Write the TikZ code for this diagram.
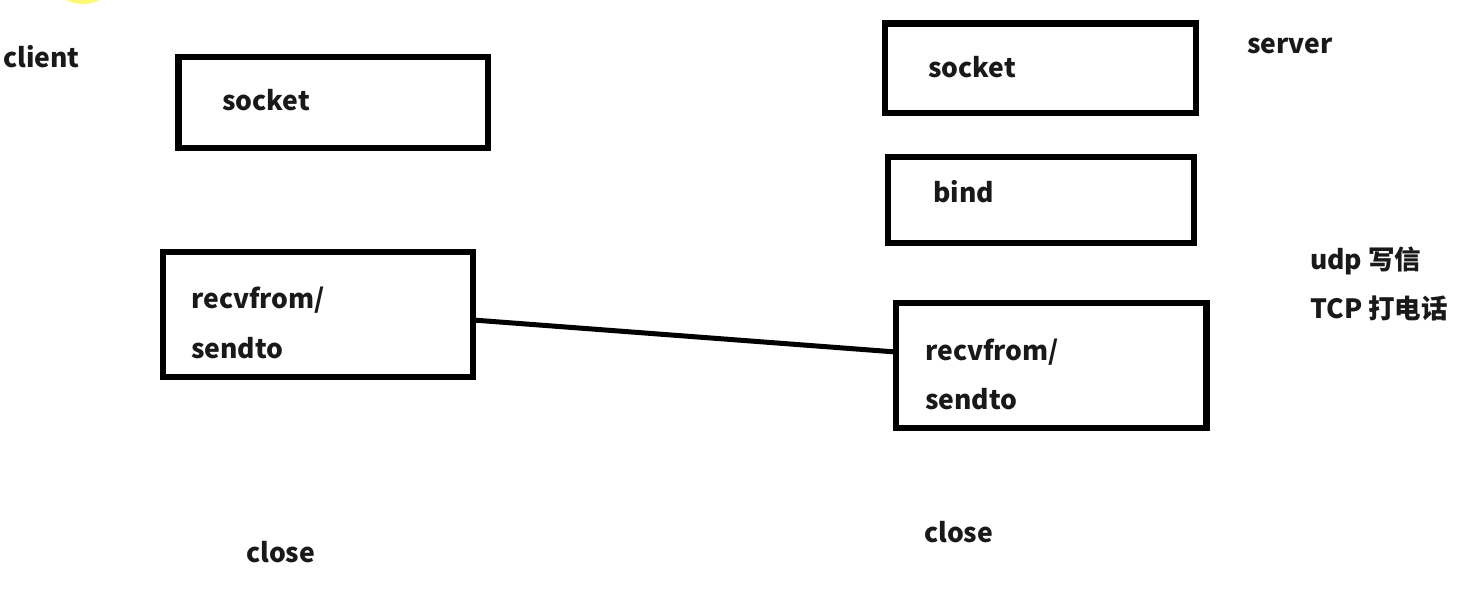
\documentclass[tikz,border=0pt]{standalone}
\usepackage{fontspec}
\setmainfont{Noto Sans CJK SC}
\begin{document}
\begin{tikzpicture}[x=1pt,y=-1pt,
  box/.style={draw=black, line width=6.5pt, rectangle, inner sep=0pt, outer sep=0pt, anchor=north west},
  txt/.style={anchor=west, inner sep=0pt, font=\fontsize{26.5}{30}\selectfont\bfseries, text=black!90},
  link/.style={draw=black, line width=5pt}]
\useasboundingbox (0,0) rectangle (1468,589);
\begin{scope}
\clip (0,0) rectangle (1468,589);
\fill[yellow!55] (83,-34) circle (38);
\end{scope}
% boxes
\node[box, minimum width=309.5pt, minimum height=91pt] (csock) at (178.5,57) {};
\node[box, minimum width=310pt, minimum height=125pt] (crecv) at (163,252) {};
\node[box, minimum width=311pt, minimum height=89.5pt] (ssock) at (885,23.5) {};
\node[box, minimum width=306pt, minimum height=86pt] (sbind) at (888,157) {};
\node[box, minimum width=310.5pt, minimum height=125pt] (srecv) at (896,303) {};
% texts
\node[txt] (client) at (3,57) {client};
\node[txt] (t1) at (222,100) {socket};
\node[txt] (t2) at (191,300) {recvfrom/};
\node[txt] (t3) at (191,348) {sendto};
\node[txt] (cclose) at (246,552) {close};
\node[txt] (server) at (1247,46) {server};
\node[txt] (t4) at (928,67) {socket};
\node[txt] (t5) at (933,192) {bind};
\node[txt] (t6) at (925,352) {recvfrom/};
\node[txt] (t7) at (925,399) {sendto};
\node[txt] (sclose) at (924,532) {close};
\node[txt] (udp) at (1310,261) {udp 写信};
\node[txt] (tcp) at (1310,308) {TCP 打电话};
% connector
\draw[link] ([yshift=-5.5pt]crecv.east) -- ([yshift=13.5pt]srecv.west);
\end{tikzpicture}
\end{document}
